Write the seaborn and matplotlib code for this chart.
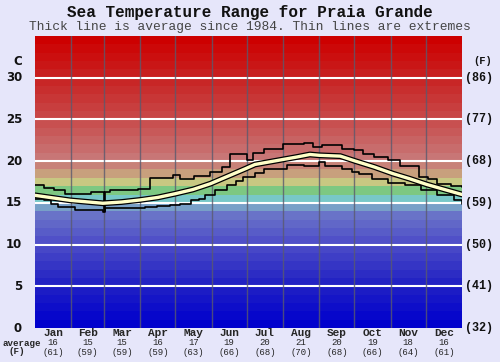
import numpy as np
import pandas as pd
import matplotlib
matplotlib.use("Agg")
import matplotlib.pyplot as plt
import seaborn as sns

# ---- data ----
months = ["Jan", "Feb", "Mar", "Apr", "May", "Jun", "Jul", "Aug", "Sep", "Oct", "Nov", "Dec"]
month_avg_c = [16, 15, 15, 16, 17, 19, 20, 21, 20, 19, 18, 16]
month_avg_f = [61, 59, 59, 59, 63, 66, 68, 70, 68, 66, 64, 61]
month_days = [31, 28, 31, 30, 31, 30, 31, 31, 30, 31, 30, 31]

avg_day = [0, 15, 30, 46, 58, 74, 90, 105, 120, 135, 150, 165, 180, 188, 200, 212,
           224, 235, 243, 261, 274, 290, 306, 320, 335, 350, 365]
avg_temp = [15.9, 15.6, 15.3, 15.1, 14.95, 15.1, 15.35, 15.65, 16.1, 16.6, 17.3, 18.2,
            19.1, 19.6, 19.9, 20.2, 20.5, 20.8, 20.7, 20.6, 20.0, 19.3, 18.5, 17.9,
            17.2, 16.6, 16.0]

max_day = [0, 8, 16, 26, 48, 58, 59, 60, 64, 88, 98, 118, 124, 136, 150, 160, 167,
           181, 186, 196, 212, 230, 238, 245, 262, 273, 280, 290, 302, 312, 328, 336,
           344, 356, 365]
max_temp = [17.2, 16.8, 16.5, 16.1, 16.3, 16.3, 14.0, 16.3, 16.5, 16.7, 18.0, 18.3,
            17.8, 18.2, 18.7, 19.3, 20.9, 20.1, 21.0, 21.4, 22.0, 22.2, 21.7, 21.9,
            21.5, 21.3, 20.9, 20.5, 20.1, 19.4, 18.1, 17.9, 17.3, 17.0, 16.9]

min_day = [0, 8, 14, 20, 34, 44, 58, 60, 76, 94, 104, 115, 124, 133, 140, 145, 154,
           164, 172, 178, 188, 196, 215, 230, 243, 248, 262, 271, 277, 288, 302, 316,
           330, 344, 358, 365]
min_temp = [15.5, 15.3, 14.9, 14.5, 14.2, 14.1, 13.9, 14.4, 14.4, 14.5, 14.6, 14.8,
            14.9, 15.3, 15.5, 15.9, 16.5, 17.1, 17.6, 18.1, 18.6, 19.1, 19.5, 19.4,
            19.9, 19.4, 19.0, 18.7, 18.4, 17.8, 17.4, 17.1, 16.5, 15.9, 15.3, 14.9]

c_ticks = [0, 5, 10, 15, 20, 25, 30]
f_ticks = ["(32)", "(41)", "(50)", "(59)", "(68)", "(77)", "(86)"]

# ---- style ----
sns.set_style("white")
plt.rcParams["font.family"] = ["DejaVu Sans"]
BG = "#e6e6fa"
MONO = "Liberation Mono"

fig = plt.figure(figsize=(5.0, 3.62), dpi=100, facecolor=BG)
ax = fig.add_axes([35 / 500, 34 / 362, 427 / 500, 292 / 362])
ax.set_facecolor(BG)

# background temperature bands
anchors_t = [0, 5, 10, 13, 14, 15, 16, 17, 18, 19, 20, 25, 30, 34]
anchors_c = np.array([
    (0, 0, 205), (35, 35, 195), (80, 80, 200), (105, 115, 200), (120, 160, 200),
    (120, 200, 200), (125, 200, 130), (200, 200, 130), (200, 160, 125),
    (200, 130, 120), (200, 118, 118), (200, 70, 70), (200, 30, 30), (205, 0, 0)]) / 255.0
for i in range(35):
    col = [np.interp(i, anchors_t, anchors_c[:, k]) for k in range(3)]
    ax.axhspan(i, i + 1, color=col, lw=0, zorder=0)

for t in c_ticks[1:]:
    ax.axhline(t, color="white", lw=1.5, zorder=1)

bounds = np.cumsum(month_days)
for b in bounds[:-1]:
    ax.axvline(b, color="#5a5a6e", lw=1.0, alpha=0.8, zorder=1)

df_avg = pd.DataFrame({"day": avg_day, "temp": avg_temp})
df_max = pd.DataFrame({"day": max_day, "temp": max_temp})
df_min = pd.DataFrame({"day": min_day, "temp": min_temp})

sns.lineplot(data=df_max, x="day", y="temp", ax=ax, color="black", lw=1.2,
             drawstyle="steps-post", sort=False, zorder=3)
sns.lineplot(data=df_min, x="day", y="temp", ax=ax, color="black", lw=1.2,
             drawstyle="steps-post", sort=False, zorder=3)
sns.lineplot(data=df_avg, x="day", y="temp", ax=ax, color="black", lw=4.2,
             sort=False, zorder=4)
sns.lineplot(data=df_avg, x="day", y="temp", ax=ax, color="#ffffc8", lw=2.4,
             sort=False, zorder=5)

ax.set_xlim(0, 365)
ax.set_ylim(0, 35)
ax.set_xlabel("")
ax.set_ylabel("")
ax.set_xticks([])
ax.set_yticks([])
for s in ax.spines.values():
    s.set_visible(False)

# left C labels
for t in c_ticks:
    ax.text(-13 * 365 / 427, t, str(t), ha="right", va="center", fontsize=8.5,
            fontweight="bold", color="#111111", clip_on=False)
ax.text(-13 * 365 / 427, 32.0, "C", ha="right", va="center", fontsize=8.5,
        fontweight="bold", color="#111111", clip_on=False)
# right F labels
for t, lab in zip(c_ticks, f_ticks):
    ax.text(365 + 3 * 365 / 427, t, lab, ha="left", va="center", fontsize=8.5,
            fontweight="bold", family=MONO, color="#111111", clip_on=False)
ax.text(365 + 11 * 365 / 427, 32.0, "(F)", ha="left", va="center", fontsize=7.5,
        fontweight="bold", family=MONO, color="#111111", clip_on=False)

# month labels
starts = np.concatenate([[0], bounds[:-1]])
mids = starts + np.array(month_days) / 2
for m, x, c, f in zip(months, mids, month_avg_c, month_avg_f):
    ax.annotate(m, (x, 0), xytext=(0, -3.9), textcoords="offset points", ha="center",
                va="center", fontsize=8, fontweight="bold", family=MONO, annotation_clip=False)
    ax.annotate(str(c), (x, 0), xytext=(0, -10.7), textcoords="offset points", ha="center",
                va="center", fontsize=6.5, family=MONO, annotation_clip=False)
    ax.annotate(f"({f})", (x, 0), xytext=(0, -17.6), textcoords="offset points", ha="center",
                va="center", fontsize=6.5, family=MONO, annotation_clip=False)
fig.text(22 / 500, 1 - 343 / 362, "average", ha="center", va="center", fontsize=6.6,
         fontweight="bold", family=MONO)
fig.text(17 / 500, 1 - 352 / 362, "(F)", ha="center", va="center", fontsize=6.6,
         fontweight="bold", family=MONO)

fig.text(0.5, 1 - 12 / 362, "Sea Temperature Range for Praia Grande", ha="center",
         va="center", fontsize=11.5, fontweight="bold", family=MONO, color="#111111")
fig.text(0.5, 1 - 27 / 362, "Thick line is average since 1984. Thin lines are extremes",
         ha="center", va="center", fontsize=9.3, family=MONO, color="#444444")

fig.savefig("out.png", dpi=100, facecolor=BG)
